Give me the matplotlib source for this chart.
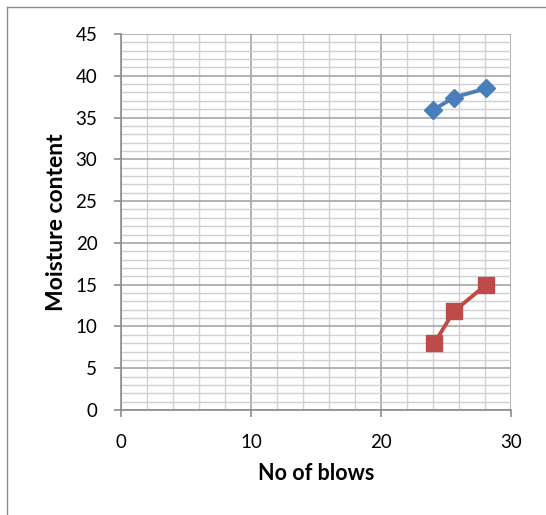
import matplotlib.pyplot as plt
from matplotlib.lines import Line2D
from matplotlib.ticker import MultipleLocator

# readings
blows_1 = [24.0, 25.6, 28.1]
moisture_1 = [35.9, 37.4, 38.5]
blows_2 = [24.1, 25.6, 28.1]
moisture_2 = [8.0, 11.8, 15.0]

plt.rcParams['font.family'] = ['Lato', 'DejaVu Sans']

fig = plt.figure(figsize=(5.46, 5.15), dpi=100)
ax = fig.add_axes([121/546, 1 - 410/515, 390/546, 376/515])

ax.set_xlim(0, 30)
ax.set_ylim(0, 45)
ax.xaxis.set_major_locator(MultipleLocator(10))
ax.xaxis.set_minor_locator(MultipleLocator(2))
ax.yaxis.set_major_locator(MultipleLocator(5))
ax.yaxis.set_minor_locator(MultipleLocator(1))

ax.grid(which='minor', color='#d0d0d0', lw=1.0)
ax.grid(which='major', color='#a6a6a6', lw=1.2)
ax.set_axisbelow(True)

for s in ['top', 'right']:
    ax.spines[s].set_visible(False)
for s in ['left', 'bottom']:
    ax.spines[s].set_color('#8c8c8c')
    ax.spines[s].set_linewidth(1.2)

ax.tick_params(which='major', length=5, width=1.2, color='#8c8c8c',
               labelsize=13.5, pad=12)
ax.tick_params(which='minor', length=0)

ax.plot(blows_1, moisture_1, color='#4a7ebb', lw=2.8, marker='D', ms=9,
        clip_on=False)
ax.plot(blows_2, moisture_2, color='#be4b48', lw=2.8, marker='s', ms=11.5,
        clip_on=False)

ax.set_xlabel('No of blows', fontsize=15.5, fontweight='bold', labelpad=9)
ax.set_ylabel('Moisture content', fontsize=16.5, fontweight='bold', labelpad=6)

# outer chart frame (left and top edges visible)
fig.add_artist(Line2D([7/546, 7/546], [0, 1 - 7/515], color='#8c8c8c', lw=1,
                      transform=fig.transFigure))
fig.add_artist(Line2D([7/546, 1], [1 - 7/515, 1 - 7/515], color='#8c8c8c', lw=1,
                      transform=fig.transFigure))

fig.savefig('out.png', dpi=100)
